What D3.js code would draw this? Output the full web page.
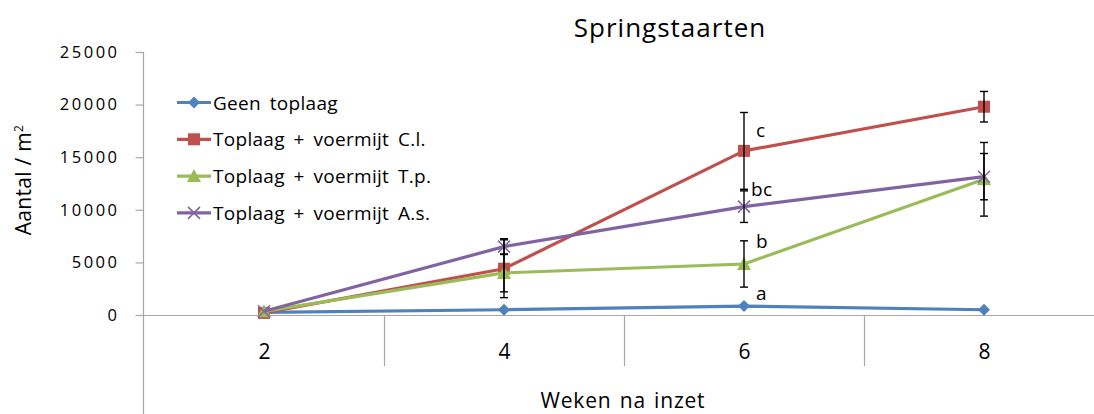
<!DOCTYPE html>
<html>
<head>
<meta charset="utf-8">
<script src="https://cdn.jsdelivr.net/npm/d3@7"></script>
<style>
  html, body { margin: 0; padding: 0; background: #fff; }
  svg { display: block; font-family: "Open Sans", "Noto Sans", sans-serif; }
</style>
</head>
<body>
<svg id="chart" width="1094" height="414"></svg>
<script>
// ---- Data ----
const categories = ["2", "4", "6", "8"];
const seriesNames = ["Geen toplaag", "Toplaag + voermijt C.l.", "Toplaag + voermijt T.p.", "Toplaag + voermijt A.s."];
const geenToplaag = [250, 500, 850, 500];
const voermijtCl = [200, 4400, 15600, 19800];
const voermijtTp = [350, 4000, 4850, 12900];
const voermijtAs = [350, 6500, 10300, 13150];
const errCl = [0, 2750, 3650, 1450];
const errTp = [0, 1800, 2200, 3500];
const errAs = [0, 750, 1500, 2200];
const yTicks = [0, 5000, 10000, 15000, 20000, 25000];
const letterLabels = ["c", "bc", "b", "a"];
const letterValues = [16900, 11300, 6400, 1400];
const titleText = "Springstaarten";
const xTitle = "Weken na inzet";

const colors = ["#4F81BD", "#C0504D", "#9BBB59", "#8064A2"];
const markers = ["diamond", "square", "triangle", "cross"];
const seriesValues = [geenToplaag, voermijtCl, voermijtTp, voermijtAs];
const seriesErr = [null, errCl, errTp, errAs];

// ---- Layout ----
const svg = d3.select("#chart");
const plotLeft = 144, plotRight = 1104, plotTop = 52, plotBottom = 315;

const x = d3.scalePoint().domain(categories).range([plotLeft, plotRight]).padding(0.5);
const y = d3.scaleLinear().domain([0, 25000]).range([plotBottom, plotTop]);
const step = x.step();

const axisColor = "#a6a6a6";

// x axis line
svg.append("line").attr("x1", 137).attr("x2", 1094).attr("y1", plotBottom + 0.5).attr("y2", plotBottom + 0.5)
  .attr("stroke", axisColor).attr("stroke-width", 1.2);
// vertical axis line (extends through label area)
svg.append("line").attr("x1", plotLeft - 0.5).attr("x2", plotLeft - 0.5).attr("y1", plotTop).attr("y2", 414)
  .attr("stroke", axisColor).attr("stroke-width", 1.2);
// category dividers
categories.slice(1).forEach(c => {
  const xx = x(c) - step / 2;
  svg.append("line").attr("x1", xx + 0.5).attr("x2", xx + 0.5).attr("y1", plotBottom).attr("y2", 366)
    .attr("stroke", axisColor).attr("stroke-width", 1.2);
});

// y axis
const yAxis = d3.axisLeft(y).tickValues(yTicks).tickSize(8).tickPadding(16).tickFormat(d3.format("d"));
const gy = svg.append("g").attr("transform", `translate(${plotLeft - 0.5},0)`).call(yAxis);
gy.select(".domain").remove();
gy.selectAll(".tick line").attr("stroke", axisColor).attr("stroke-width", 1.2);
gy.selectAll(".tick text").attr("fill", "#000").style("font-size", "16.5px")
  .style("letter-spacing", "2.5px").style("font-family", "'Open Sans', sans-serif");

// x axis labels
const xAxis = d3.axisBottom(x).tickSize(0).tickPadding(0);
const gx = svg.append("g").attr("transform", `translate(0,${plotBottom})`).call(xAxis);
gx.select(".domain").remove();
gx.selectAll(".tick text").attr("fill", "#000").attr("dy", "0").attr("y", 44)
  .style("font-size", "21px").style("font-family", "'Open Sans', sans-serif");

// titles
svg.append("text").attr("x", 670).attr("y", 37).attr("text-anchor", "middle")
  .style("font-size", "26px").style("letter-spacing", "1px").text(titleText);
svg.append("text").attr("x", 623).attr("y", 408).attr("text-anchor", "middle")
  .style("font-size", "21px").style("letter-spacing", "0.8px").style("word-spacing", "2px").text(xTitle);
svg.append("text").attr("transform", "translate(31,180) rotate(-90)").attr("text-anchor", "middle")
  .style("font-size", "21px").style("letter-spacing", "0.3px")
  .html('Aantal / m<tspan dy="-8" font-size="12px">2</tspan>');

// marker drawing
function drawMarker(g, type, cx, cy, color) {
  if (type === "diamond") {
    g.append("path").attr("d", `M${cx},${cy-6}L${cx+6},${cy}L${cx},${cy+6}L${cx-6},${cy}Z`).attr("fill", color);
  } else if (type === "square") {
    g.append("rect").attr("x", cx - 6).attr("y", cy - 6).attr("width", 12).attr("height", 12).attr("fill", color);
  } else if (type === "triangle") {
    g.append("path").attr("d", `M${cx},${cy-7}L${cx+7},${cy+6}L${cx-7},${cy+6}Z`).attr("fill", color);
  } else if (type === "cross") {
    g.append("path").attr("d", `M${cx-6},${cy-6}L${cx+6},${cy+6}M${cx-6},${cy+6}L${cx+6},${cy-6}`)
      .attr("stroke", color).attr("stroke-width", 1.5).attr("fill", "none");
  }
}

const line = d3.line().x((d, i) => x(categories[i])).y(d => y(d));

// series lines and markers
seriesValues.forEach((vals, s) => {
  const g = svg.append("g");
  g.append("path").datum(vals).attr("d", line).attr("fill", "none")
    .attr("stroke", colors[s]).attr("stroke-width", 3.2).attr("stroke-linejoin", "round");
  vals.forEach((v, i) => drawMarker(g, markers[s], x(categories[i]), y(v), colors[s]));
});

// error bars (drawn on top)
const eg = svg.append("g").attr("stroke", "#000").attr("stroke-width", 1.4);
seriesValues.forEach((vals, s) => {
  const errs = seriesErr[s];
  if (!errs) return;
  vals.forEach((v, i) => {
    if (!errs[i]) return;
    const cx = x(categories[i]);
    const y1 = y(v + errs[i]), y2 = y(v - errs[i]);
    eg.append("line").attr("x1", cx).attr("x2", cx).attr("y1", y1).attr("y2", y2);
    eg.append("line").attr("x1", cx - 4).attr("x2", cx + 4).attr("y1", y1).attr("y2", y1);
    eg.append("line").attr("x1", cx - 4).attr("x2", cx + 4).attr("y1", y2).attr("y2", y2);
  });
});

// significance letters at week 6
letterLabels.forEach((t, i) => {
  svg.append("text").attr("x", x("6") + (t === "bc" ? 7 : 12)).attr("y", y(letterValues[i]))
    .style("font-size", "19px").style("letter-spacing", "0.5px").text(t);
});

// legend
const legend = svg.append("g");
seriesNames.forEach((name, s) => {
  const ly = 102.5 + s * 36.8;
  legend.append("line").attr("x1", 177).attr("x2", 211).attr("y1", ly).attr("y2", ly)
    .attr("stroke", colors[s]).attr("stroke-width", 3.2);
  drawMarker(legend, markers[s], 194, ly, colors[s]);
  legend.append("text").attr("x", 213).attr("y", ly + 7).style("font-size", "19px")
    .style("letter-spacing", "0.3px").style("word-spacing", "3.5px").text(name);
});
</script>
</body>
</html>
